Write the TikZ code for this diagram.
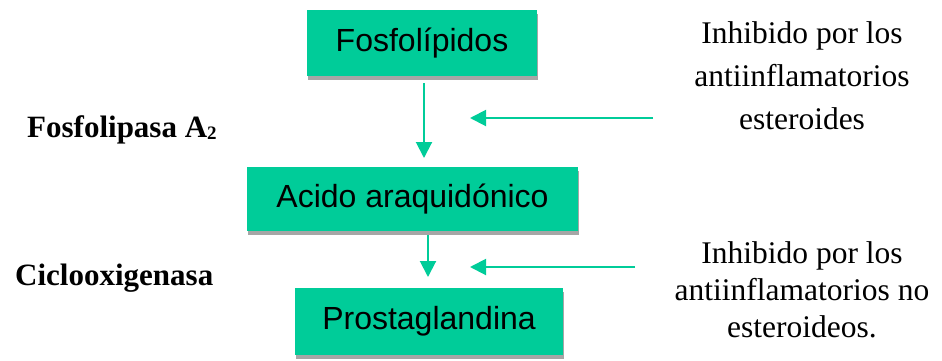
\documentclass[tikz,border=0pt]{standalone}
\usepackage{fontspec}
\setmainfont{Liberation Serif}
\setsansfont{Liberation Sans}
\usepackage{xcolor}
\usepackage{tikz}
\usetikzlibrary{arrows.meta,shadows}
\definecolor{leaf}{RGB}{0,204,153}
\definecolor{shade}{RGB}{166,166,166}
\tikzset{
  stage/.style={fill=leaf,draw=none,inner sep=0pt,
    font=\sffamily\fontsize{32}{38}\selectfont,
    drop shadow={shadow xshift=1pt,shadow yshift=-4pt,fill=shade,opacity=1}},
  flow/.style={draw=leaf,line width=2pt,-{Triangle[length=16pt,width=16pt]}},
  note/.style={align=center,inner sep=0pt,anchor=north},
  enzyme/.style={font=\bfseries\fontsize{31}{36}\selectfont,inner sep=0pt,anchor=base west}
}
\begin{document}
\begin{tikzpicture}[x=1pt,y=-1pt]
		\useasboundingbox (0,0) rectangle (942,360);
		\node[stage,minimum width=230pt,minimum height=66pt] (fosfo) at (422,43) {Fosfolípidos};
		\node[stage,minimum width=331pt,minimum height=64pt] (acido) at (412.5,199) {Acido araquidónico};
		\node[stage,minimum width=268pt,minimum height=67pt] (prosta) at (429,321.5) {Prostaglandina};
		%
		\node[enzyme] (fla2) at (27,137) {Fosfolipasa A\raisebox{-2pt}{\fontsize{19}{19}\selectfont 2}};
		\node[enzyme] (cox) at (15,285) {Ciclooxigenasa};
		\node[note,font=\fontsize{31.5}{43}\selectfont] (inh1) at (802,21.5) {Inhibido por los\\antiinflamatorios\\esteroides};
		\node[note,font=\fontsize{31.5}{37}\selectfont] (inh2) at (802,241.5) {Inhibido por los\\antiinflamatorios no\\esteroideos.};
		%
		\coordinate (p1) at (424,158);
		\coordinate (p2) at (428,277);
		\coordinate (h1) at (653,118);
		\coordinate (k1) at (470,118);
		\coordinate (h2) at (635,267);
		\coordinate (k2) at (470,267);
		% vertical arrows
		\draw[flow] ([yshift=-7pt]fosfo.south -| p1) -- (p1);
		\draw[flow] ([yshift=-4pt]acido.south -| p2) -- (p2);
		% horizontal arrows
		\draw[flow] (h1) -- (k1);
		\draw[flow] (h2) -- (k2);
\end{tikzpicture}
\end{document}
